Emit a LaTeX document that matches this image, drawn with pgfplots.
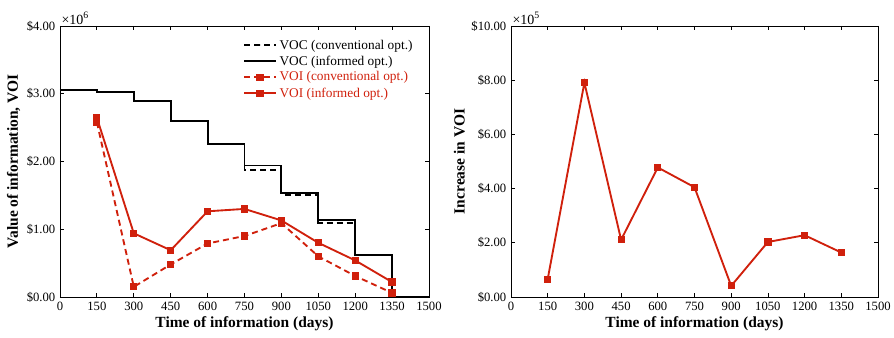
\documentclass[border=0pt]{standalone}
\usepackage{fontspec}
\setmainfont{Liberation Serif}
\usepackage{pgfplots}
\pgfplotsset{compat=1.18}
\definecolor{vred}{RGB}{208,32,12}
\pgfplotsset{
  myax/.style={
    scale only axis,
    width=276.75pt, height=203.25pt,
    xmin=0, xmax=1500, ymin=0,
    xtick={0,150,...,1500},
    tick align=inside,
    major tick length=3pt,
    /pgf/number format/assume math mode=true,
    /pgf/number format/1000 sep={},
    ticklabel style={font=\fontsize{9.5}{11}\selectfont},
    label style={font=\fontsize{11.6}{14}\selectfont\bfseries},
    xlabel={Time of information (days)},
    xlabel style={yshift=2pt},
    axis line style={line width=0.6pt},
    tick style={line width=0.6pt, black},
    yticklabel={\$\pgfmathprintnumber[fixed,fixed zerofill,precision=2]{\tick}},
    clip=false,
  },
  vdash/.style={dash pattern=on 4.5pt off 3pt},
}
\begin{document}
\begin{tikzpicture}
\useasboundingbox (-45pt,-30.75pt) rectangle (625.5pt,222.75pt);
\begin{axis}[myax, at={(0pt,0pt)}, anchor=south west,
  ymax=4, ytick={0,1,2,3,4},
  ylabel={Value of information, VOI},
  ylabel style={yshift=-2pt},
  legend style={draw=none, fill=none, at={(0.967,0.965)}, anchor=north east,
    font=\normalsize, row sep=-0.5pt, inner sep=1pt},
  legend cell align=left,
  legend image code/.code={\draw[mark repeat=2,mark phase=2,#1] plot coordinates {(0pt,0pt) (12pt,0pt) (24pt,0pt)};},
]
\addplot[const plot, black, vdash, line width=1.4pt] coordinates {
(0,3.06) (150,3.02) (300,2.89) (450,2.60) (600,2.26) (750,1.88) (900,1.51) (1050,1.09) (1200,0.62) (1350,0) (1500,0)};
\addlegendentry{VOC (conventional opt.)}
\addplot[const plot, black, solid, line width=1.4pt] coordinates {
(0,3.06) (150,3.02) (300,2.89) (450,2.60) (600,2.26) (750,1.94) (900,1.53) (1050,1.14) (1200,0.62) (1350,0) (1500,0)};
\addlegendentry{VOC (informed opt.)}
\addplot[vred, vdash, line width=1.4pt, mark=square*, mark size=2pt, mark options={solid}] coordinates {
(150,2.58) (300,0.15) (450,0.48) (600,0.79) (750,0.90) (900,1.09) (1050,0.60) (1200,0.31) (1350,0.06)};
\addlegendentry{\textcolor{vred}{VOI (conventional opt.)}}
\addplot[vred, solid, line width=1.4pt, mark=square*, mark size=2pt] coordinates {
(150,2.645) (300,0.94) (450,0.69) (600,1.265) (750,1.30) (900,1.13) (1050,0.80) (1200,0.54) (1350,0.22)};
\addlegendentry{\textcolor{vred}{VOI (informed opt.)}}
\node[anchor=south west, inner sep=1pt, font=\fontsize{10.5}{12}\selectfont] at (rel axis cs:0,1) {×10\textsuperscript{6}};
\end{axis}
\begin{axis}[myax, at={(338.25pt,0pt)}, anchor=south west,
  width=275.25pt,
  ymax=10, ytick={0,2,...,10},
  ylabel={Increase in VOI},
  ylabel style={yshift=-2pt},
]
\addplot[vred, solid, line width=1.4pt, mark=square*, mark size=2pt] coordinates {
(150,0.66) (300,7.91) (450,2.11) (600,4.78) (750,4.05) (900,0.41) (1050,2.03) (1200,2.28) (1350,1.64)};
\node[anchor=south west, inner sep=1pt, font=\fontsize{10.5}{12}\selectfont] at (rel axis cs:0,1) {×10\textsuperscript{5}};
\end{axis}
\end{tikzpicture}
\end{document}
